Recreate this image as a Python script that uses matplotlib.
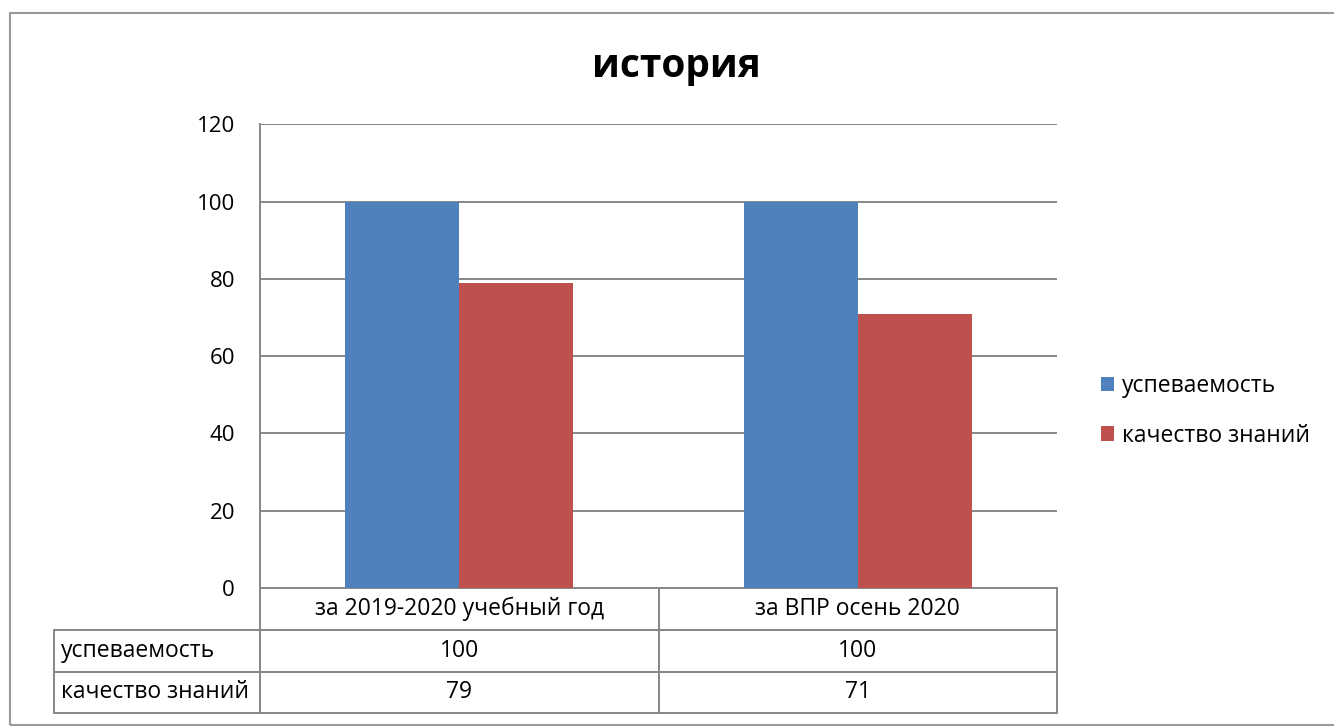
import matplotlib
matplotlib.use("Agg")
import matplotlib.pyplot as plt
import numpy as np
from matplotlib.patches import Rectangle

plt.rcParams["font.family"] = ["Open Sans", "DejaVu Sans"]

title = "история"
categories = ["за 2019-2020 учебный год", "за ВПР осень 2020"]
series_names = ["успеваемость", "качество знаний"]
uspevaemost = [100, 100]
kachestvo = [79, 71]
y_ticks = [0, 20, 40, 60, 80, 100, 120]

W, H = 1334, 726
fig = plt.figure(figsize=(W / 100, H / 100), dpi=100)

# plot area in pixels
left, right, top, bottom = 260, 1057, 124.4, 588
ax = fig.add_axes([left / W, 1 - bottom / H, (right - left) / W, (bottom - top) / H])

grid_c = "#878787"
colors = ["#4f81bd", "#c0504d"]
x = np.arange(len(categories))
width = 114 / 398.5

b1 = ax.bar(x - width / 2, uspevaemost, width, color=colors[0], label=series_names[0], zorder=3)
b2 = ax.bar(x + width / 2, kachestvo, width, color=colors[1], label=series_names[1], zorder=3)

ax.set_xlim(-0.5, len(categories) - 0.5)
ax.set_ylim(0, 120)
ax.set_yticks(y_ticks)
ax.tick_params(axis="y", length=0, pad=18, labelsize=16)
ax.set_xticks([])
ax.yaxis.grid(True, color=grid_c, linewidth=1.4, zorder=0)
for s in ["top", "right", "bottom"]:
    ax.spines[s].set_visible(False)
ax.spines["left"].set_color(grid_c)
ax.spines["left"].set_linewidth(1.4)

# data table under the bars, drawn cell by cell in axes coordinates
ax_w, ax_h = right - left, bottom - top
lab_x0 = (54 - left) / ax_w
row_edges = [(bottom - y) / ax_h for y in (588, 630, 672, 713)]
col_edges = np.linspace(0, 1, len(categories) + 1)
tfs = 16.5


def cell(x0, x1, y0, y1, text, ha="center"):
    ax.add_patch(Rectangle((x0, y1), x1 - x0, y0 - y1, transform=ax.transAxes,
                           fill=False, edgecolor=grid_c, linewidth=1.4, clip_on=False))
    tx = (x0 + x1) / 2 if ha == "center" else x0 + 7 / ax_w
    ax.text(tx, (y0 + y1) / 2, text, transform=ax.transAxes, ha=ha, va="center",
            fontsize=tfs, clip_on=False)


for j, cat in enumerate(categories):
    cell(col_edges[j], col_edges[j + 1], row_edges[0], row_edges[1], cat)
for i, (name, vals) in enumerate(zip(series_names, [uspevaemost, kachestvo]), start=1):
    cell(lab_x0, 0, row_edges[i], row_edges[i + 1], name, ha="left")
    for j, v in enumerate(vals):
        cell(col_edges[j], col_edges[j + 1], row_edges[i], row_edges[i + 1], str(v))

# legend
fig.legend(
    handles=[b1, b2], loc="center left", bbox_to_anchor=(1101 / W, 1 - 411 / H),
    frameon=False, fontsize=16.5, handlelength=0.58, handleheight=0.58,
    handletextpad=0.33, labelspacing=1.1, borderpad=0, borderaxespad=0,
)

fig.text(676 / W, 1 - 77 / H, title, fontsize=28, fontweight="bold",
         ha="center", va="baseline")

# outer chart frame
fig.patches.append(Rectangle((9.5 / W, 1 - 724.5 / H), 1.2, (724.5 - 12.5) / H,
                             transform=fig.transFigure, fill=False,
                             edgecolor="#9a9a9a", linewidth=1.5))

fig.savefig("out.png", dpi=100, facecolor="white")
